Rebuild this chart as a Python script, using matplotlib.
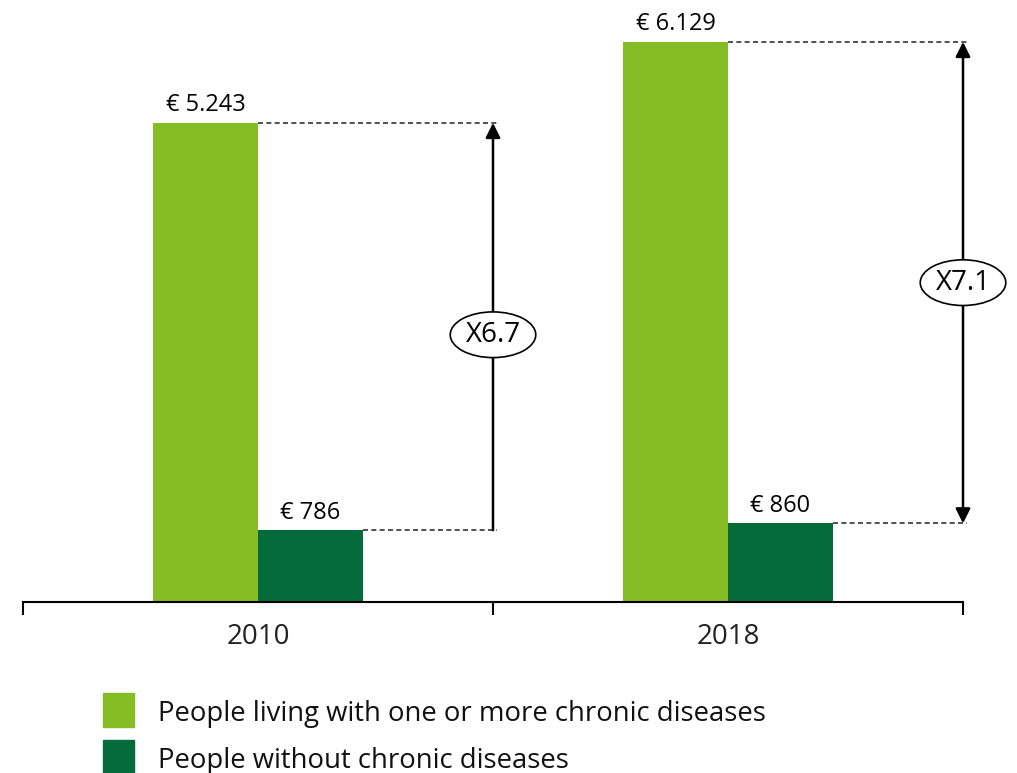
import numpy as np
import matplotlib.pyplot as plt
from matplotlib.patches import Ellipse, Rectangle

plt.rcParams['font.family'] = ['Open Sans', 'DejaVu Sans']

years = ["2010", "2018"]
chronic = [5243, 6129]
no_chronic = [786, 860]
chronic_labels = ["€ 5.243", "€ 6.129"]
no_chronic_labels = ["€ 786", "€ 860"]
ratios = ["X6.7", "X7.1"]
legend_names = ["People living with one or more chronic diseases",
                "People without chronic diseases"]

light = "#86BC25"
dark = "#056B3A"

fig = plt.figure(figsize=(10.17, 7.73), dpi=100)
ax = fig.add_axes([23/1017, 171/773, 940/1017, 594/773])

x = np.arange(len(years))
w = 0.2234
ax.bar(x - w/2, chronic, w, color=light, zorder=2)
ax.bar(x + w/2, no_chronic, w, color=dark, zorder=2)

for i in range(len(years)):
    ax.annotate(chronic_labels[i], (x[i] - w/2, chronic[i]), xytext=(0, 4),
                textcoords="offset points", ha="center", va="bottom", fontsize=17)
    ax.annotate(no_chronic_labels[i], (x[i] + w/2, no_chronic[i]), xytext=(0, 4),
                textcoords="offset points", ha="center", va="bottom", fontsize=17)
    xa = x[i] + 0.5
    # dashed guides
    ax.plot([x[i], xa + 0.008], [chronic[i]] * 2, ls=(0, (3, 2)), color="#333333",
            lw=1.2, zorder=1, clip_on=False)
    ax.plot([x[i] + w, xa + 0.008], [no_chronic[i]] * 2, ls=(0, (3, 2)), color="#333333",
            lw=1.2, zorder=1, clip_on=False)
    style = "-|>" if i == 0 else "<|-|>"
    ax.annotate("", xy=(xa, chronic[i]), xytext=(xa, no_chronic[i]),
                arrowprops=dict(arrowstyle=style, color="black", lw=1.8,
                                mutation_scale=22, shrinkA=0, shrinkB=0),
                zorder=3, annotation_clip=False)
    ym = (chronic[i] + no_chronic[i]) / 2 - (90 if i == 0 else 0)
    ax.add_patch(Ellipse((xa, ym), 0.182, 500, facecolor="white", edgecolor="black",
                         lw=1.2, zorder=4, clip_on=False))
    ax.text(xa, ym, ratios[i], ha="center", va="center", fontsize=20, zorder=5)

ax.set_xlim(-0.5, 1.5)
ax.set_ylim(0, 6500)
ax.set_xticks(x)
ax.set_xticklabels(years, fontsize=20, color="#222222")
ax.tick_params(axis="x", which="major", length=0, pad=15)
ax.set_xticks([-0.5, 0.5, 1.5], minor=True)
ax.tick_params(axis="x", which="minor", length=9, width=1.5, direction="out")
ax.set_yticks([])
for s in ["top", "right", "left"]:
    ax.spines[s].set_visible(False)
ax.spines["bottom"].set_linewidth(1.5)

# legend
for j, (name, c) in enumerate(zip(legend_names, [light, dark])):
    y0 = 773 - 727 - j * 47
    fig.add_artist(Rectangle((103/1017, y0/773), 31/1017, 34/773, color=c, transform=fig.transFigure))
    fig.text(158/1017, (y0 + 13)/773, name, fontsize=19.8, va="center", color="#111111")

fig.savefig("out.png", dpi=100)
